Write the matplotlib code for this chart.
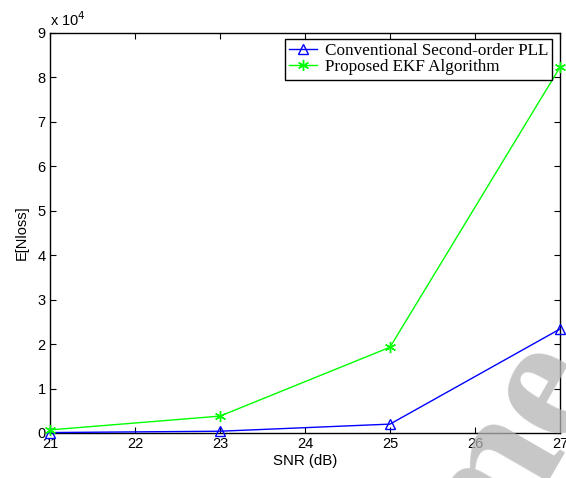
import matplotlib
matplotlib.use("Agg")
import matplotlib.pyplot as plt

snr = [21, 23, 25, 27]
pll = [100, 400, 2000, 23400]
ekf = [700, 3800, 19300, 82300]

plt.rcParams['font.family'] = ['Liberation Sans', 'DejaVu Sans']

fig = plt.figure(figsize=(5.66, 4.78), dpi=100)
ax = fig.add_axes([50 / 566, 1 - 433 / 478, 510 / 566, 400 / 478])

ax.plot(snr, pll, color='#0000ff', lw=1, marker='^', ms=7, mfc='none', mec='#0000ff',
        label='Conventional Second-order PLL', clip_on=False, zorder=3)
ax.plot(snr, ekf, color='#00ff00', lw=1, marker=(6, 2, 0), ms=8, mec='#00ff00', mew=1,
        label='Proposed EKF Algorithm', clip_on=False, zorder=3)

ax.set_xlim(21, 27)
ax.set_ylim(0, 90000)
ax.set_xticks(range(21, 28))
ax.set_yticks(range(0, 90001, 10000))
ax.set_yticklabels([str(i) for i in range(10)])
ax.tick_params(direction='in', length=4, labelsize=10.5, top=True, right=True, pad=3)
for s in ax.spines.values():
    s.set_linewidth(1)
ax.text(0.0, 1.01, r'x 10$^4$', transform=ax.transAxes, fontsize=10.5, va='bottom', ha='left')

ax.set_xlabel('SNR (dB)', fontsize=10.8, labelpad=2)
ax.set_ylabel('E[Nloss]', fontsize=10.5, labelpad=6)

leg = ax.legend(loc='upper right', bbox_to_anchor=(0.985, 0.985), fancybox=False,
                edgecolor='black', framealpha=1, borderpad=0.25, handlelength=1.65,
                handletextpad=0.45, labelspacing=0.0, borderaxespad=0,
                prop={'family': 'Liberation Serif', 'size': 12.3})
leg.get_frame().set_linewidth(1)

# watermark in the lower right corner
fig.text(0.9, 0.05, 'me', fontsize=130, fontweight='bold', family='Liberation Serif',
         color='#b4b4b4', alpha=0.75, rotation=60, ha='center', va='center', zorder=10)

fig.savefig('out.png', dpi=100)
